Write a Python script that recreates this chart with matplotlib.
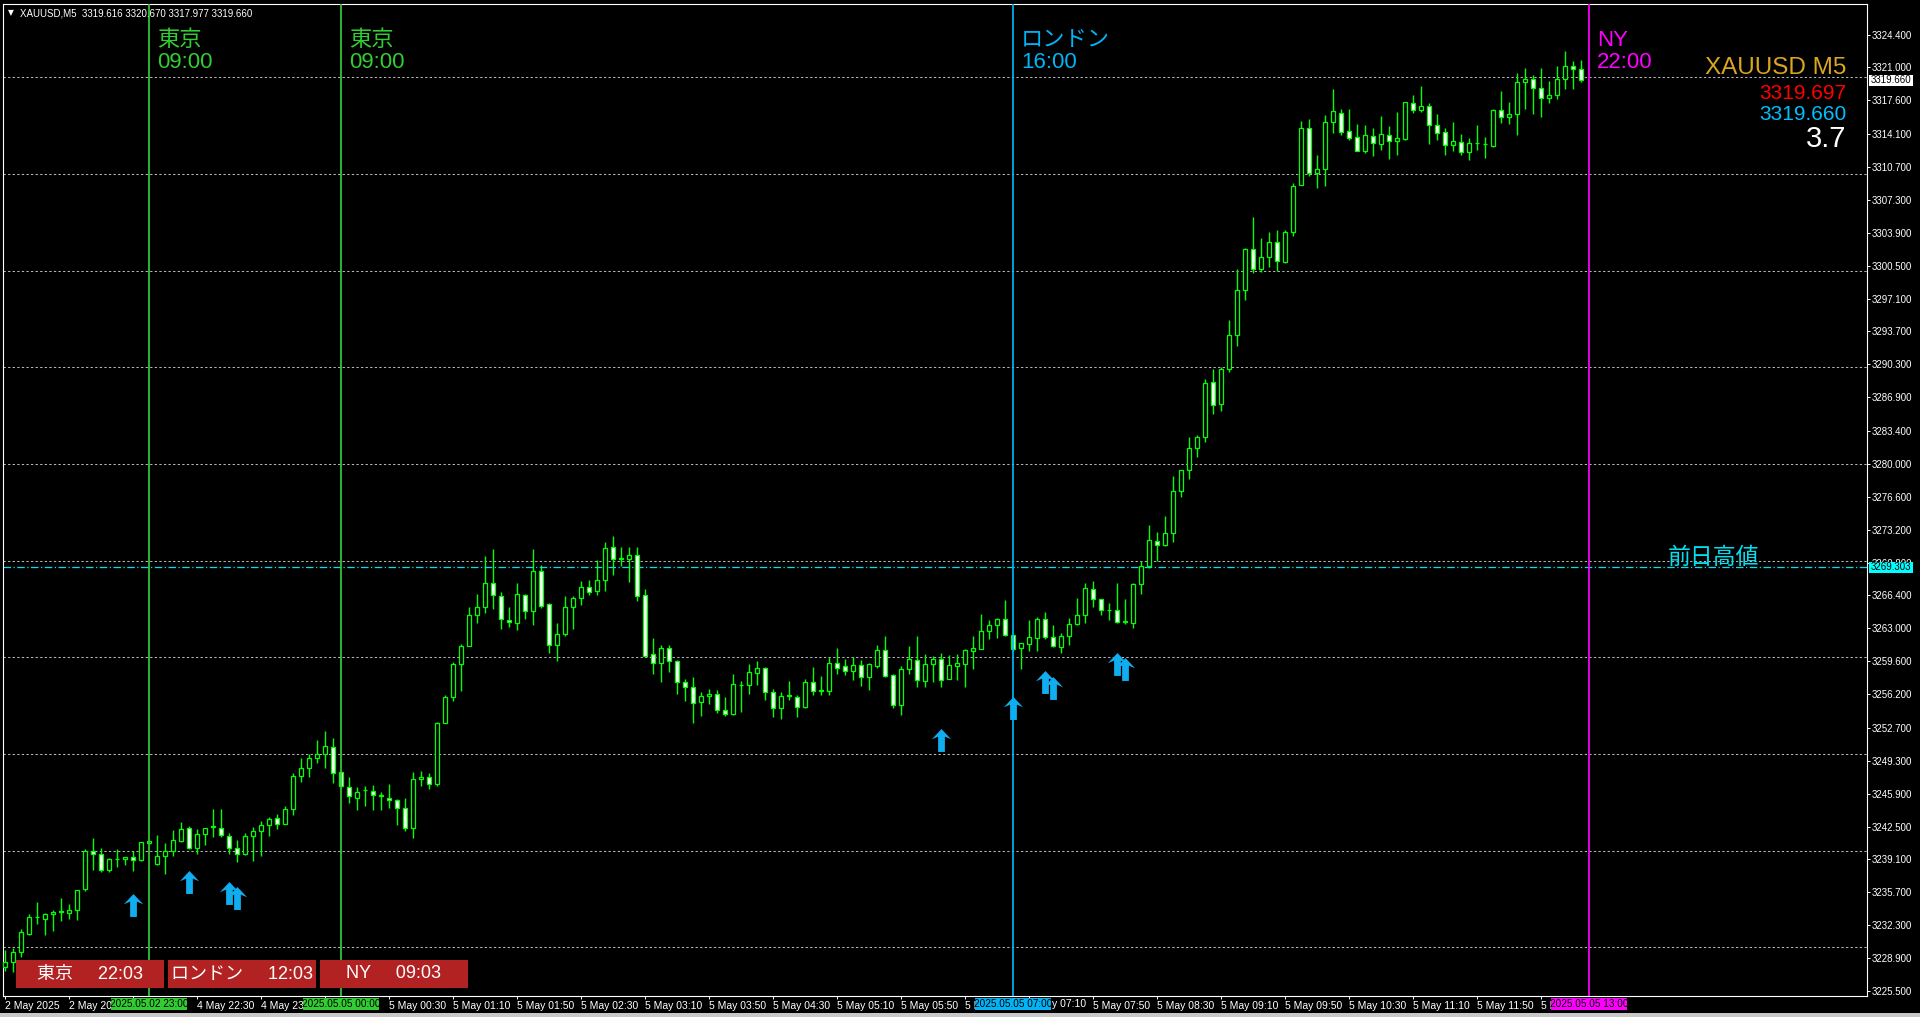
import numpy as np
import matplotlib.pyplot as plt
import matplotlib.transforms as mtransforms
from matplotlib.patches import Rectangle
from matplotlib.path import Path

plt.rcParams['font.family'] = ['Liberation Sans', 'Noto Sans CJK JP', 'DejaVu Sans']

W, H = 1920, 1017

# 5-minute candles, XAUUSD (one row per bar: open, high, low, close)
opens = [3228.0, 3228.5, 3229.5, 3231.4, 3233.1, 3232.9, 3233.5, 3233.7, 3233.6, 3233.9,
         3236.0, 3240.0, 3239.7, 3238.0, 3239.1, 3239.1, 3239.4, 3239.05, 3240.8, 3238.6,
         3239.5, 3240.0, 3241.0, 3242.4, 3240.25, 3241.7, 3242.5, 3242.4, 3241.5, 3240.25,
         3239.7, 3241.5, 3242.0, 3242.7, 3243.35, 3242.8, 3244.3, 3247.7, 3248.6, 3249.6,
         3250.0, 3250.7, 3248.1, 3246.6, 3245.5, 3246.3, 3246.2, 3245.7, 3245.5, 3245.2,
         3244.4, 3242.4, 3247.4, 3247.6, 3246.9, 3253.25, 3255.9, 3259.3, 3261.2, 3264.4,
         3265.2, 3267.65, 3266.3, 3263.9, 3263.5, 3266.4, 3264.8, 3268.9, 3265.5, 3261.3,
         3262.4, 3265.2, 3266.1, 3267.3, 3266.9, 3268.0, 3271.4, 3270.2, 3270.2, 3270.6,
         3266.4, 3260.3, 3259.4, 3261.0, 3259.65, 3257.4, 3256.9, 3255.4, 3256.0, 3256.2,
         3254.6, 3254.1, 3257.15, 3257.1, 3258.4, 3258.9, 3256.45, 3254.8, 3256.05, 3255.9,
         3254.9, 3257.4, 3256.55, 3256.55, 3259.45, 3259.1, 3258.6, 3259.2, 3258.0, 3259.15,
         3260.8, 3258.2, 3255.05, 3258.8, 3259.7, 3257.6, 3259.3, 3259.83, 3257.8, 3259.15,
         3259.3, 3260.7, 3260.9, 3262.7, 3263.3, 3264.0, 3262.3, 3261.0, 3261.34, 3262.0,
         3264.0, 3262.07, 3261.1, 3262.2, 3263.4, 3264.34, 3267.1, 3266.0, 3264.9, 3264.9,
         3263.7, 3263.6, 3267.56, 3269.4, 3272.0, 3271.6, 3272.9, 3277.2, 3279.4, 3281.6,
         3282.8, 3288.45, 3286.2, 3289.85, 3293.35, 3298.0, 3302.2, 3300.2, 3301.4, 3302.9,
         3300.9, 3304.0, 3308.85, 3314.75, 3310.1, 3310.5, 3315.4, 3316.3, 3314.45, 3313.8,
         3312.4, 3313.9, 3313.07, 3314.0, 3313.4, 3313.6, 3317.3, 3316.6, 3317.0, 3315.05,
         3314.3, 3313.0, 3313.3, 3312.3, 3313.2, 3313.1, 3312.9, 3316.57, 3315.9, 3316.15,
         3319.5, 3319.8, 3318.85, 3317.8, 3318.2, 3319.8, 3321.1, 3320.8]
highs = [3229.7, 3229.9, 3231.9, 3233.5, 3234.7, 3233.6, 3233.9, 3235.1, 3234.5, 3235.9,
         3240.15, 3241.3, 3240.3, 3239.3, 3240.15, 3239.4, 3240.0, 3240.9, 3241.0, 3241.6,
         3240.8, 3242.15, 3243.0, 3242.6, 3242.3, 3242.4, 3244.3, 3244.3, 3241.8, 3241.1,
         3241.8, 3242.5, 3243.1, 3243.5, 3243.8, 3244.6, 3248.0, 3249.6, 3250.0, 3251.45,
         3252.4, 3251.7, 3248.1, 3247.6, 3246.6, 3246.7, 3246.8, 3246.1, 3246.9, 3245.3,
         3245.5, 3248.1, 3248.2, 3248.0, 3253.35, 3256.1, 3259.55, 3261.4, 3265.2, 3266.6,
         3270.5, 3271.2, 3266.8, 3265.2, 3267.7, 3266.6, 3271.2, 3269.55, 3265.6, 3263.5,
         3266.3, 3266.3, 3267.9, 3268.0, 3270.1, 3271.9, 3272.55, 3271.4, 3271.4, 3271.4,
         3267.1, 3262.0, 3261.3, 3261.3, 3259.7, 3257.8, 3258.0, 3256.45, 3256.7, 3256.6,
         3255.9, 3258.3, 3257.55, 3259.3, 3259.65, 3259.0, 3256.7, 3256.45, 3257.55, 3256.1,
         3257.8, 3259.0, 3258.07, 3260.0, 3261.0, 3259.8, 3260.0, 3259.7, 3259.4, 3261.3,
         3262.2, 3258.3, 3259.1, 3261.2, 3262.2, 3260.3, 3260.1, 3260.5, 3260.2, 3260.3,
         3260.9, 3262.2, 3264.5, 3263.9, 3264.1, 3265.9, 3262.4, 3261.45, 3263.86, 3264.2,
         3264.65, 3263.34, 3262.5, 3264.1, 3266.1, 3267.65, 3267.9, 3266.05, 3265.6, 3267.65,
         3266.0, 3267.7, 3270.0, 3273.7, 3273.0, 3274.6, 3278.75, 3279.4, 3282.8, 3282.97,
         3288.8, 3289.85, 3290.06, 3294.9, 3300.2, 3302.3, 3305.5, 3303.4, 3304.0, 3304.2,
         3304.2, 3309.1, 3315.5, 3315.7, 3311.9, 3316.1, 3318.8, 3316.7, 3316.7, 3315.2,
         3315.05, 3314.7, 3316.0, 3314.9, 3316.4, 3317.4, 3318.1, 3319.1, 3317.3, 3316.2,
         3314.75, 3315.4, 3314.1, 3313.7, 3315.05, 3313.8, 3316.7, 3318.55, 3317.4, 3320.4,
         3320.96, 3320.2, 3320.9, 3319.6, 3321.2, 3322.65, 3321.7, 3321.8]
lows = [3227.6, 3227.5, 3229.0, 3231.3, 3232.4, 3231.3, 3231.7, 3232.7, 3232.9, 3232.8,
        3235.8, 3238.0, 3237.8, 3237.8, 3238.35, 3238.5, 3237.9, 3238.9, 3240.7, 3238.5,
        3237.6, 3239.5, 3240.9, 3240.15, 3239.7, 3240.6, 3241.4, 3241.4, 3239.7, 3238.8,
        3239.6, 3238.9, 3239.5, 3241.5, 3242.3, 3242.8, 3243.7, 3247.1, 3247.6, 3249.1,
        3248.6, 3247.0, 3246.6, 3244.9, 3244.2, 3244.6, 3244.2, 3244.2, 3244.4, 3242.7,
        3242.0, 3241.3, 3246.7, 3246.4, 3246.7, 3253.2, 3255.5, 3256.55, 3261.2, 3263.5,
        3264.55, 3265.0, 3262.9, 3263.1, 3262.8, 3264.0, 3263.3, 3265.1, 3260.5, 3259.65,
        3262.2, 3262.9, 3265.4, 3266.4, 3266.4, 3266.9, 3268.5, 3269.4, 3267.8, 3265.8,
        3260.1, 3258.3, 3257.4, 3258.5, 3256.2, 3255.5, 3253.2, 3253.9, 3255.2, 3254.2,
        3253.9, 3254.05, 3254.3, 3256.2, 3257.15, 3255.6, 3253.8, 3253.6, 3255.6, 3253.8,
        3254.8, 3256.1, 3256.1, 3256.1, 3258.3, 3258.2, 3257.65, 3257.0, 3256.6, 3258.9,
        3258.0, 3254.8, 3254.0, 3258.3, 3256.9, 3256.95, 3257.5, 3256.9, 3257.8, 3257.7,
        3256.95, 3258.75, 3260.85, 3261.9, 3262.0, 3262.2, 3260.7, 3258.75, 3260.7, 3260.7,
        3261.9, 3261.1, 3260.4, 3261.3, 3263.3, 3263.5, 3265.2, 3264.4, 3263.9, 3263.5,
        3263.4, 3263.05, 3266.55, 3269.2, 3270.0, 3271.5, 3271.9, 3276.55, 3278.45, 3280.7,
        3282.25, 3285.2, 3285.5, 3289.55, 3292.2, 3297.0, 3299.7, 3299.85, 3300.4, 3300.0,
        3300.8, 3303.6, 3308.85, 3309.8, 3308.55, 3308.76, 3314.2, 3314.0, 3313.5, 3312.35,
        3312.2, 3311.8, 3312.5, 3311.5, 3311.9, 3313.5, 3316.3, 3316.4, 3313.1, 3313.5,
        3311.9, 3312.4, 3311.9, 3311.4, 3312.5, 3311.6, 3312.8, 3315.3, 3315.2, 3314.0,
        3316.7, 3316.2, 3315.9, 3317.3, 3317.7, 3318.8, 3318.8, 3319.5]
closes = [3228.5, 3229.5, 3231.6, 3233.1, 3233.1, 3233.5, 3233.7, 3233.7, 3233.9, 3235.9,
          3240.0, 3239.7, 3238.0, 3239.1, 3239.1, 3239.4, 3239.05, 3240.9, 3241.0, 3239.5,
          3240.0, 3241.1, 3242.3, 3240.25, 3241.7, 3242.4, 3242.5, 3241.6, 3240.25, 3239.7,
          3241.5, 3242.0, 3242.7, 3243.25, 3242.8, 3244.3, 3247.7, 3248.6, 3249.6, 3250.0,
          3250.8, 3248.0, 3246.7, 3245.7, 3246.1, 3246.3, 3245.8, 3245.7, 3245.2, 3244.4,
          3242.4, 3247.4, 3247.6, 3246.9, 3253.25, 3255.9, 3259.3, 3261.2, 3264.4, 3265.2,
          3267.65, 3266.45, 3264.0, 3263.65, 3266.55, 3264.8, 3268.9, 3265.3, 3261.3, 3262.4,
          3265.2, 3266.1, 3267.3, 3266.8, 3268.0, 3271.3, 3270.2, 3270.2, 3270.6, 3266.3,
          3260.1, 3259.4, 3261.0, 3259.6, 3257.4, 3256.9, 3255.3, 3256.0, 3256.2, 3254.6,
          3254.1, 3257.2, 3257.15, 3258.45, 3258.9, 3256.45, 3254.8, 3256.0, 3256.05, 3254.9,
          3257.4, 3256.55, 3256.55, 3259.45, 3258.9, 3258.6, 3259.2, 3258.0, 3259.3, 3260.8,
          3258.1, 3255.1, 3258.8, 3259.8, 3257.7, 3259.3, 3259.83, 3257.7, 3259.2, 3259.4,
          3260.76, 3261.0, 3262.7, 3263.3, 3264.0, 3262.3, 3260.9, 3261.45, 3262.07, 3264.0,
          3262.07, 3261.17, 3262.2, 3263.4, 3264.34, 3267.13, 3266.0, 3264.9, 3264.9, 3263.7,
          3263.7, 3267.56, 3269.46, 3272.1, 3271.6, 3272.9, 3277.2, 3279.4, 3281.6, 3282.8,
          3288.4, 3286.05, 3289.85, 3293.35, 3298.0, 3302.2, 3300.2, 3301.4, 3302.9, 3300.95,
          3304.0, 3308.7, 3314.75, 3310.1, 3310.5, 3315.4, 3316.45, 3314.3, 3313.7, 3312.4,
          3314.0, 3313.2, 3314.1, 3313.4, 3313.7, 3317.4, 3316.65, 3317.0, 3315.0, 3314.25,
          3313.0, 3313.4, 3312.3, 3313.2, 3313.2, 3313.1, 3316.57, 3315.9, 3316.15, 3319.5,
          3319.8, 3318.85, 3317.8, 3318.2, 3319.8, 3321.1, 3320.8, 3319.7]

# time axis labels every 8 bars (text as far as it shows beside the session stamps)
xtick_idx = list(range(0, 193, 8))
xtick_labels = ['2 May 2025', '2 May 20:', '', '4 May 22:30', '4 May 23:',
                '', '5 May 00:30', '5 May 01:10', '5 May 01:50', '5 May 02:30',
                '5 May 03:10', '5 May 03:50', '5 May 04:30', '5 May 05:10', '5 May 05:50',
                '5 M', '', '5 May 07:50', '5 May 08:30', '5 May 09:10',
                '5 May 09:50', '5 May 10:30', '5 May 11:10', '5 May 11:50', '5 M']
tail_label_idx = 128
tail_label = 'y 07:10'

ytick_vals = [3324.4, 3321.0, 3317.6, 3314.1, 3310.7, 3307.3, 3303.9, 3300.5, 3297.1, 3293.7,
              3290.3, 3286.9, 3283.4, 3280.0, 3276.6, 3273.2, 3269.8, 3266.4, 3263.0, 3259.6,
              3256.2, 3252.7, 3249.3, 3245.9, 3242.5, 3239.1, 3235.7, 3232.3, 3228.9, 3225.5]
grid_levels = [3230, 3240, 3250, 3260, 3270, 3280, 3290, 3300, 3310, 3320]

# session open lines: bar index, name, local time, colour, server time
sess_idx = [18, 42, 126, 198]
sess_name = ['東京', '東京', 'ロンドン', 'NY']
sess_time = ['09:00', '09:00', '16:00', '22:00']
sess_color = ['#32CD32', '#32CD32', '#00B4F5', '#FF00FF']
sess_stamp = ['2025.05.02 23:00', '2025.05.05 00:00', '2025.05.05 07:00', '2025.05.05 13:00']

# signal arrows
arrow_idx = [16, 23, 28, 29, 117, 126, 130, 131, 139, 140]
arrow_price = [3234.34, 3236.72, 3235.68, 3235.12, 3251.48, 3254.81, 3257.43, 3256.83,
               3259.36, 3258.77]

prev_high = 3269.303
bid, ask, spread = 3319.660, 3319.697, 3.7
countdown_name = ['東京', 'ロンドン', 'NY']
countdown_time = ['22:03', '12:03', '09:03']

GREEN = '#00FF00'
ARROW = '#10AEEF'
CYAN = '#00E0F0'

fig = plt.figure(figsize=(W / 100, H / 100), dpi=100, facecolor='black')
ax = fig.add_axes([3 / W, 1 - 996 / H, 1864 / W, 992 / H], facecolor='black')
ax.set_xlim(-0.25, 232.75)
ax.set_ylim(3224.98, 3327.56)


def fy(py):
    return 1 - py / H


def ay(py):
    return (996 - py) / 992


bx = mtransforms.blended_transform_factory(ax.transData, ax.transAxes)
bxf = mtransforms.blended_transform_factory(ax.transData, fig.transFigure)
byf = mtransforms.blended_transform_factory(fig.transFigure, ax.transData)

# grid
for g in grid_levels:
    ax.axhline(g, color='#b4b4b4', lw=0.75, ls=(0, (2.2, 2.2)), zorder=1)

# candles
o = np.array(opens)
hi = np.array(highs)
lo = np.array(lows)
c = np.array(closes)
idx = np.arange(len(o))
up = c >= o
ax.vlines(idx, lo, hi, color=GREEN, lw=1, zorder=2)
body_lo = np.minimum(o, c)
body_h = np.maximum(np.abs(c - o), 0.03)
ax.bar(idx, body_h, width=0.5, bottom=body_lo, color=np.where(up, 'black', 'white'),
       edgecolor=GREEN, linewidth=0.9, zorder=3)

# previous day high
ax.axhline(prev_high, color=CYAN, lw=0.9, ls=(0, (6, 2, 1, 2)), zorder=2)
fig.text(1668 / W, fy(564), '前日高値', color=CYAN, fontsize=16.5, va='baseline', ha='left')

# countdown boxes (drawn before session lines so lines pass over them)
for k, (nm, tm) in enumerate(zip(countdown_name, countdown_time)):
    x0 = 16 + 152 * k
    fig.patches.append(Rectangle((x0 / W, fy(988)), 148 / W, 28 / H, transform=fig.transFigure,
                                 facecolor='#B22222', edgecolor='none', zorder=5))
    fig.text((x0 + 74) / W, fy(974), nm + '     ' + tm, color='white', fontsize=13,
             ha='center', va='center', zorder=6)

# session lines and labels
for si, nm, tm, col, st in zip(sess_idx, sess_name, sess_time, sess_color, sess_stamp):
    ax.axvline(si, color=col, lw=1.25, zorder=8)
    ax.text(si + 1.0, ay(46), nm, transform=bx, color=col, fontsize=16, va='baseline', ha='left')
    ax.text(si + 1.0, ay(68.5), tm, transform=bx, color=col, fontsize=16, va='baseline', ha='left')
    ax.add_patch(Rectangle((si - 4.8, fy(1010)), 9.6, 12 / H, transform=bxf, facecolor=col,
                           edgecolor='none', clip_on=False, zorder=10))
    ax.text(si, fy(1004), st, transform=bxf, color='black', fontsize=7.2, ha='center',
            va='center', clip_on=False, zorder=11)

# arrows
arrow_path = Path([(0, 9.5), (8, 1.0), (2.8, 3.2), (2.8, -9.5), (-2.8, -9.5), (-2.8, 3.2),
                   (-8, 1.0), (0, 9.5)],
                  [Path.MOVETO] + [Path.LINETO] * 6 + [Path.CLOSEPOLY])
ax.plot(arrow_idx, arrow_price, ls='none', marker=arrow_path, markersize=16.5,
        color=ARROW, markeredgewidth=0, zorder=7)

# axes styling
for s in ax.spines.values():
    s.set_color('white')
    s.set_linewidth(0.8)
ax.yaxis.tick_right()
ax.set_yticks(ytick_vals, [f'{v:.3f}' for v in ytick_vals])
ax.set_xticks(xtick_idx, xtick_labels)
ax.tick_params(axis='y', colors='white', labelsize=7, length=2.2, width=0.7, pad=1.5)
ax.tick_params(axis='x', colors='white', labelsize=7.5, length=2.5, width=0.7, pad=1)
for lab in ax.get_xticklabels():
    lab.set_ha('left')
# the part of the 07:10 label that shows right of the London stamp
ax.text(tail_label_idx + 2.9, fy(1004), tail_label, transform=bxf, color='white', fontsize=7.5,
        ha='left', va='center', clip_on=False)

# price boxes on the axis
for price, fc in [(bid, 'white'), (prev_high, '#00FFFF')]:
    ax.add_patch(Rectangle((1869 / W, price - 0.6), 44 / W, 1.2, transform=byf, facecolor=fc,
                           edgecolor='none', clip_on=False, zorder=10))
    ax.text(1891 / W, price, f'{price:.3f}', transform=byf, color='black', fontsize=7,
            ha='center', va='center', clip_on=False, zorder=11)

# header
fig.text(8 / W, fy(13), '▼', color='white', fontsize=5.5, va='center', family='DejaVu Sans')
fig.text(20 / W, fy(13), 'XAUUSD,M5  3319.616 3320.670 3317.977 3319.660', color='white',
         fontsize=7, va='center')

# symbol info block
fig.text(1846.6 / W, fy(74), 'XAUUSD M5', color='#DAA520', fontsize=17.5, ha='right', va='baseline')
fig.text(1846.6 / W, fy(99), f'{ask:.3f}', color='#FF0000', fontsize=15, ha='right', va='baseline')
fig.text(1846.6 / W, fy(119.5), f'{bid:.3f}', color='#00BFFF', fontsize=15, ha='right', va='baseline')
fig.text(1846.6 / W, fy(147), f'{spread}', color='white', fontsize=21, ha='right', va='baseline')

# window edge at the bottom
fig.patches.append(Rectangle((0, 0), 1, 4 / H, transform=fig.transFigure, facecolor='#c8c8c8',
                             edgecolor='none'))

fig.savefig('out.png', dpi=100, facecolor='black')
